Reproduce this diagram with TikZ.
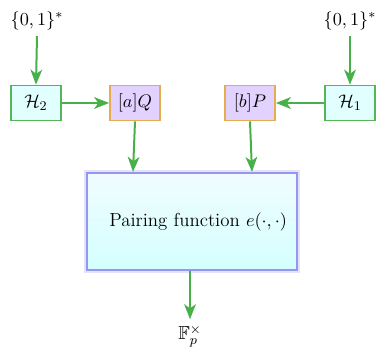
\documentclass[tikz,border=0pt]{standalone}
\usepackage{amsmath,amssymb}
\usetikzlibrary{arrows.meta,positioning,calc}
\definecolor{arrgreen}{RGB}{72,176,72}
\definecolor{hgreen}{RGB}{84,182,84}
\definecolor{hfill}{RGB}{226,255,255}
\definecolor{pfill}{RGB}{226,210,255}
\definecolor{pdraw}{RGB}{232,172,80}
\definecolor{btop}{RGB}{240,252,255}
\definecolor{bbot}{RGB}{212,255,255}
\definecolor{bdraw}{RGB}{150,150,240}
\tikzset{
  every node/.style={font=\fontsize{11.3}{13}\selectfont},
  hbox/.style={draw=hgreen, fill=hfill, line width=1pt, minimum width=50*0.6pt, minimum height=35*0.6pt, inner sep=0pt},
  pbox/.style={draw=pdraw, fill=pfill, line width=1pt, minimum width=50*0.6pt, minimum height=35*0.6pt, inner sep=0pt},
  arr/.style={draw=arrgreen, line width=1.2pt, -{Stealth[length=9pt,width=7pt,inset=2.5pt]}},
  mainbox/.style={top color=btop, bottom color=bbot, draw=bdraw, line width=1.3pt,
    preaction={draw=bdraw!45, line width=3.2pt, opacity=0.6},
    minimum width=210*0.6pt, minimum height=97*0.6pt, inner xsep=10*0.6pt,
    text width=190*0.6pt, align=right}
}
\begin{document}
\begin{tikzpicture}[x=0.6pt,y=-0.6pt]
\useasboundingbox (0,0) rectangle (380,350);
\node (s2) at (37,21) {$\{0,1\}^*$};
\node (s1) at (350,21) {$\{0,1\}^*$};
\node[hbox] (h2) at (36,103) {$\mathcal{H}_2$};
\node[pbox] (aq) at (135,103) {$[a]Q$};
\node[pbox] (bp) at (250,103) {$[b]P$};
\node[hbox] (h1) at (350,103) {$\mathcal{H}_1$};
\node[mainbox] (pf) at (192,221.5) {Pairing function $e(\cdot,\cdot)$};
\node (fp) at (190,336) {$\mathbb{F}_p^{\times}$};
\draw[arr] (s2.south) -- (h2.north);
\draw[arr] (s1.south) -- (h1.north);
\draw[arr] (h2.east) -- (aq.west);
\draw[arr] (h1.west) -- (bp.east);
\draw[arr] (aq.south) -- ([xshift=-2*0.6pt]aq.south |- pf.north);
\draw[arr] (bp.south) -- ([xshift=2*0.6pt]bp.south |- pf.north);
\draw[arr] ([xshift=-2*0.6pt]pf.south) -- ([xshift=-2*0.6pt]pf.south |- fp.north);
\end{tikzpicture}
\end{document}
